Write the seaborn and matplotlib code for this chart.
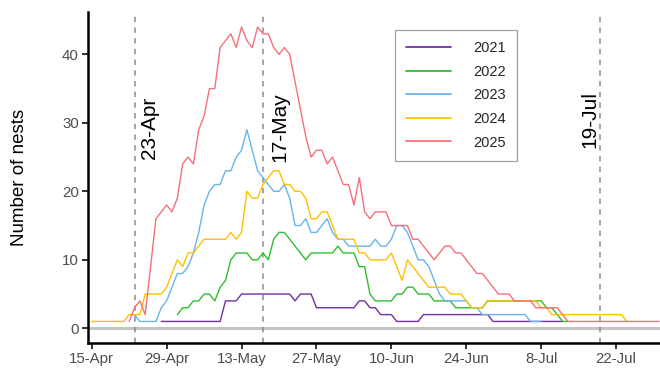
import numpy as np
import pandas as pd
import seaborn as sns
import matplotlib.pyplot as plt

# Daily nest counts, day 0 = 15 April
years = ['2021', '2022', '2023', '2024', '2025']
start_days = [13, 16, 8, 0, 7]

n2021 = [1, 1, 1, 1, 1, 1, 1, 1, 1, 1, 1, 1,
         4, 4, 4, 5, 5, 5, 5, 5, 5, 5, 5, 5, 5, 4, 5, 5, 5,
         3, 3, 3, 3, 3, 3, 3, 3, 4, 4, 3, 3, 2, 2, 2, 1, 1, 1, 1, 1,
         2, 2, 2, 2, 2, 2, 2, 2, 2, 2, 2, 2, 2,
         1, 1, 1, 1, 1, 1, 1, 1, 1, 1, 1, 1, 1, 1]
n2022 = [2, 3, 3, 4, 4, 5, 5, 4, 6, 7,
         10, 11, 11, 11, 10, 10, 11, 10, 13, 14,
         14, 13, 12, 11, 10, 11, 11, 11, 11, 11,
         12, 11, 11, 11, 9, 9, 5, 4, 4, 4,
         4, 5, 5, 6, 6, 5, 5, 5, 4, 4,
         4, 4, 3, 3, 3, 3, 3, 3, 4, 4,
         4, 4, 4, 4, 4, 4, 4, 4, 4, 3,
         3, 2, 1, 1]
n2023 = [2, 1, 1, 1, 1, 3, 4, 6, 8, 8,
         9, 11, 14, 18, 20, 21, 21, 23, 23, 25,
         26, 29, 26, 23, 22, 21, 20, 20, 21, 19,
         15, 15, 16, 14, 14, 15, 16, 14, 13, 13,
         12, 12, 12, 12, 12, 13, 12, 12, 13, 15,
         15, 14, 12, 10, 10, 9, 7, 5, 4, 4,
         4, 4, 4, 3, 3, 2, 2, 2, 2, 2,
         2, 2, 2, 2, 1, 1, 1]
n2024 = [1, 1, 1, 1, 1, 1, 1, 2, 2, 2,
         5, 5, 5, 5, 6, 8, 10, 9, 11, 11,
         12, 13, 13, 13, 13, 13, 14, 13, 14, 20,
         19, 19, 21, 22, 23, 23, 21, 21, 20, 20,
         19, 16, 16, 17, 17, 15, 13, 13, 13, 13,
         11, 11, 10, 10, 10, 10, 11, 9, 7, 10,
         9, 8, 7, 6, 6, 6, 6, 5, 5, 5,
         4, 3, 3, 3, 4, 4, 4, 4, 4, 4,
         4, 4, 4, 4, 3, 3, 2, 2, 2, 2,
         2, 2, 2, 2, 2, 2, 2, 2, 2, 2,
         1]
n2025 = [1, 3, 4, 2, 9, 16, 17, 18, 17, 19,
         24, 25, 24, 29, 31, 35, 35, 41, 42, 43,
         41, 44, 42, 41, 44, 43, 43, 41, 40, 41,
         40, 36, 32, 28, 25, 26, 26, 24, 25, 23,
         21, 21, 18, 22, 17, 16, 17, 17, 17, 15,
         15, 15, 15, 13, 13, 12, 11, 10, 11, 12,
         12, 11, 11, 10, 9, 8, 8, 7, 6, 5,
         5, 5, 4, 4, 4, 4, 3, 3, 3, 3,
         3, 2, 1, 1, 1, 1, 1, 1, 1, 1,
         1, 1, 1, 1, 1, 1, 1, 1, 1, 1]
counts = [n2021, n2022, n2023, n2024, n2025]
colours = ['#7030A0', '#2EBF2E', '#66B5F0', '#FFC000', '#F5707A']

tick_labels = ['15-Apr', '29-Apr', '13-May', '27-May', '10-Jun', '24-Jun', '8-Jul', '22-Jul']
marker_labels = ['23-Apr', '17-May', '19-Jul']

season_start = pd.Timestamp('2025-04-15')

frames = []
for year, start, vals in zip(years, start_days, counts):
    days = np.arange(start, start + len(vals))
    frames.append(pd.DataFrame({'date': season_start + pd.to_timedelta(days, unit='D'),
                                'nests': vals, 'year': year}))
df = pd.concat(frames, ignore_index=True)

sns.set_theme(style='white')
plt.rcParams['font.family'] = ['Liberation Sans', 'DejaVu Sans']

fig = plt.figure(figsize=(6.6, 3.72), dpi=100)
ax = fig.add_axes([0.1333, 0.077, 0.8667, 0.891])

ax.axhline(0, color='#C4C4C4', lw=2.2, zorder=1)

to_date = lambda s: pd.to_datetime(s + '-2025', format='%d-%b-%Y')
for lab in marker_labels:
    ax.axvline(to_date(lab), color='#8C8C8C', lw=1.1, ls=(0, (3.5, 3.5)), zorder=1)

sns.lineplot(data=df, x='date', y='nests', hue='year', hue_order=years,
             palette=dict(zip(years, colours)), lw=1.0, estimator=None, ax=ax, zorder=3)

# rotated labels next to the dashed lines
label_pos = [(10.8, 29.2), (35.2, 29.4), (93.1, 30.5)]
for lab, (dx, yy) in zip(marker_labels, label_pos):
    ax.text(season_start + pd.Timedelta(days=dx), yy, lab, rotation=90,
            ha='center', va='center', fontsize=15, color='black')

ax.set_xlim(season_start - pd.Timedelta(days=0.7), season_start + pd.Timedelta(days=106.2))
ax.set_ylim(-2.2, 46.2)
ax.set_xticks([to_date(t) for t in tick_labels])
ax.set_xticklabels(tick_labels)
ax.set_yticks([0, 10, 20, 30, 40])

for side in ['top', 'right']:
    ax.spines[side].set_visible(False)
for side in ['left', 'bottom']:
    ax.spines[side].set_color('black')
    ax.spines[side].set_linewidth(1.8)
ax.tick_params(axis='both', length=4, width=1.4, color='#333333',
               labelsize=10.8, labelcolor='#4D4D4D', pad=2.5, bottom=True, left=True)

ax.set_xlabel('')
ax.set_ylabel('Number of nests', fontsize=13.5, color='black')
ax.yaxis.set_label_coords(-0.104, 0.5)

leg = ax.legend(loc='upper left', bbox_to_anchor=(0.537, 0.945), fontsize=10.5,
                frameon=True, fancybox=False, edgecolor='#A0A0A0', framealpha=1,
                handlelength=3.1, handletextpad=1.5, labelspacing=0.66,
                borderpad=0.75, borderaxespad=0)
leg.get_frame().set_linewidth(0.9)
for line in leg.get_lines():
    line.set_linewidth(1.3)

fig.savefig('out.png', dpi=100)
